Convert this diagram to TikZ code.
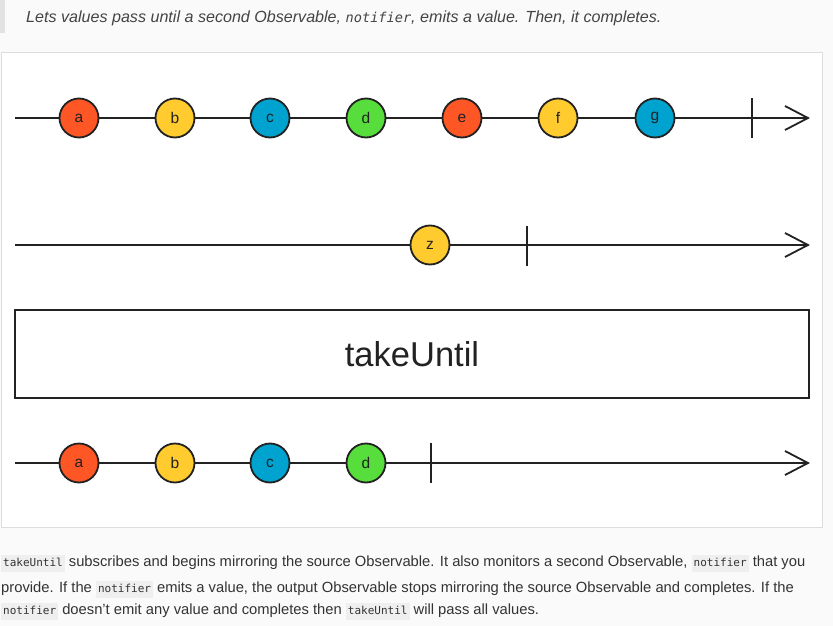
\documentclass[tikz,border=0pt]{standalone}
\usepackage{fontspec}
\setmainfont{Liberation Sans}
\newfontfamily\monofont{DejaVu Sans Mono}
\usetikzlibrary{calc}
\definecolor{pagebg}{HTML}{FAFAFA}
\definecolor{panelborder}{HTML}{DDDDDD}
\definecolor{quotebar}{HTML}{E2E2E2}
\definecolor{quotetext}{HTML}{444444}
\definecolor{bodytext}{HTML}{333333}
\definecolor{codebg}{HTML}{EFEFEF}
\definecolor{mred}{HTML}{FF5626}
\definecolor{myellow}{HTML}{FFCB2F}
\definecolor{mblue}{HTML}{00A2CF}
\definecolor{mgreen}{HTML}{57DD3C}
\definecolor{ink}{HTML}{222222}
\newcommand\codespan[1]{{\setlength\fboxsep{2pt}\colorbox{codebg}{\monofont\fontsize{11}{13}\selectfont\strut #1}}}
\tikzset{
  marble/.style={circle, draw=ink, line width=1.8pt, minimum size=39pt, inner sep=0pt,
    font=\fontsize{15.5}{15.5}\selectfont, text=ink},
  timeline/.style={draw=ink, line width=1.8pt},
  arrowhead/.style={draw=ink, line width=1.8pt},
  endtick/.style={draw=ink, line width=1.8pt},
  opbox/.style={draw=ink, line width=2pt, fill=white, inner sep=0pt},
  bodyline/.style={anchor=base west, inner sep=0pt, text=bodytext, font=\fontsize{14.75}{16}\selectfont},
}
\begin{document}
\begin{tikzpicture}[x=1pt,y=-1pt]
\useasboundingbox (0,0) rectangle (833,626);
\fill[pagebg] (0,0) rectangle (833,626);
% quote
\fill[quotebar] (0,0) rectangle (5,33);
\node[anchor=base west, inner sep=0pt, text=quotetext, font=\fontsize{16.1}{16}\selectfont\itshape] (quote) at (26,22.5)
  {Lets values pass until a second Observable, {\monofont\fontsize{13.6}{14}\selectfont\itshape notifier}, emits a value. Then, it completes.};
% panel
\draw[panelborder, fill=white, line width=0.8pt] (1.5,52.5) rectangle (822,527);
% row 1
\coordinate (s1) at (15,118);
\coordinate (e1) at (808,118);
\draw[timeline] (s1) -- (e1);
\draw[arrowhead, line join=miter] ($(e1)+(-23,-12)$) -- (e1) -- ($(e1)+(-23,12)$);
\draw[endtick] (752,98) -- (752,138);
\node[marble, fill=mred] (a1) at (79,118) {a};
\node[marble, fill=myellow] (b1) at (175,118) {b};
\node[marble, fill=mblue] (c1) at (270,118) {c};
\node[marble, fill=mgreen] (d1) at (366,118) {d};
\node[marble, fill=mred] (e1m) at (462,118) {e};
\node[marble, fill=myellow] (f1) at (558,118) {f};
\node[marble, fill=mblue] (g1) at (655,118) {g};
% row 2
\coordinate (s2) at (15,245);
\coordinate (e2) at (808,245);
\draw[timeline] (s2) -- (e2);
\draw[arrowhead, line join=miter] ($(e2)+(-23,-12)$) -- (e2) -- ($(e2)+(-23,12)$);
\draw[endtick] (527,226) -- (527,266);
\node[marble, fill=myellow] (z2) at (430,245) {z};
% operator box
\node[opbox, minimum width=794pt, minimum height=88pt, font=\fontsize{34.5}{34.5}\selectfont, text=ink] (op) at (412,354) {takeUntil};
% row 3
\coordinate (s3) at (15,463);
\coordinate (e3) at (808,463);
\draw[timeline] (s3) -- (e3);
\draw[arrowhead, line join=miter] ($(e3)+(-23,-12)$) -- (e3) -- ($(e3)+(-23,12)$);
\draw[endtick] (431,443) -- (431,483);
\node[marble, fill=mred] (a3) at (79,463) {a};
\node[marble, fill=myellow] (b3) at (175,463) {b};
\node[marble, fill=mblue] (c3) at (270,463) {c};
\node[marble, fill=mgreen] (d3) at (366,463) {d};
% body text
\node[bodyline] (l1) at (1,566) {\codespan{takeUntil} subscribes and begins mirroring the source Observable. It also monitors a second Observable, \codespan{notifier} that you};
\node[bodyline] (l2) at (1,592) {provide. If the \codespan{notifier} emits a value, the output Observable stops mirroring the source Observable and completes. If the};
\node[bodyline] (l3) at (1,614) {\codespan{notifier} doesn't emit any value and completes then \codespan{takeUntil} will pass all values.};
\end{tikzpicture}
\end{document}
